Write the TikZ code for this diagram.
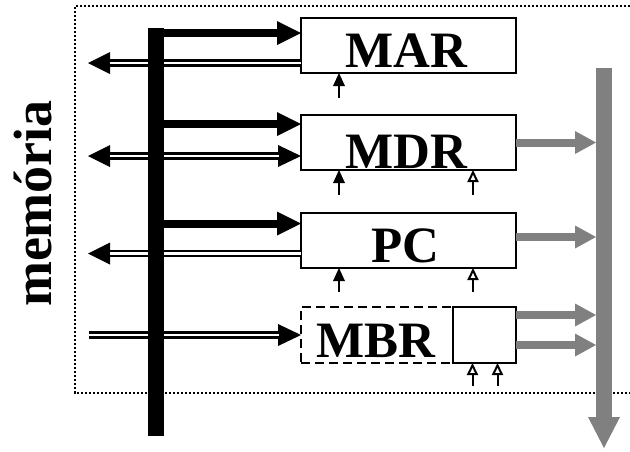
\documentclass[tikz,border=0pt]{standalone}
\usepackage{fontspec}
\setmainfont{Liberation Serif}
\usetikzlibrary{arrows.meta}
\definecolor{busgray}{RGB}{128,128,128}
\begin{document}
\begin{tikzpicture}[x=1pt,y=-1pt,
  regbox/.style={draw=black, line width=2pt, minimum width=215pt, minimum height=55pt, inner sep=0pt, outer sep=0pt},
  reglabel/.style={font=\bfseries\fontsize{51}{51}\selectfont, anchor=base, inner sep=0pt},
  busarrow/.style={line width=8pt, -{Triangle[width=24pt,length=24pt,line width=0pt]}},
  dblout/.style={line width=7.4pt, draw=black},
  dblin/.style={line width=2.6pt, draw=white},
  grayarrow/.style={draw=busgray, fill=busgray, line width=8pt, -{Triangle[width=23pt,length=21pt,line width=0pt]}},
  ctlarrow/.style={line width=2.4pt, -{Triangle[width=12pt,length=13pt,line width=0pt]}},
  ctlopen/.style={line width=2pt, -{Triangle[open,width=11pt,length=12pt]}},
]
\useasboundingbox (0,0) rectangle (630,451);

% memory frame
\draw[line width=2.6pt, dash pattern=on 2.4pt off 1.6pt] (630,6) -- (75,6) -- (75,393) -- (630,393);
\node[rotate=90, anchor=base, inner sep=0pt, font=\bfseries\fontsize{54}{54}\selectfont] (memlabel) at (52,203.5) {memória};

% registers
\node[regbox] (mar) at (408.5,45.5) {};
\node[regbox] (mdr) at (408.5,142.5) {};
\node[regbox] (pc) at (408.5,240.5) {};
\node[regbox, minimum width=152pt, minimum height=56pt, dash pattern=on 9pt off 5pt] (mbr) at (377,335) {};
\node[regbox, minimum width=63pt, minimum height=56pt] (mbrs) at (484.5,335) {};

\node[reglabel] (marT) at (406.5,67) {MAR};
\node[reglabel] (mdrT) at (406.5,168) {MDR};
\node[reglabel] (pcT) at (405.5,262) {PC};
\node[reglabel] (mbrT) at (376,357) {MBR};

% connection points
\coordinate (memx) at (88,0);
\coordinate (mbrx) at (89,0);
\coordinate (gx) at (596,0);
\coordinate (marA) at ([yshift=12.5pt]mar.west);
\coordinate (marD) at ([yshift=-17.5pt]mar.west);
\coordinate (mdrA) at ([yshift=18.5pt]mdr.west);
\coordinate (mdrD) at ([yshift=-13.5pt]mdr.west);
\coordinate (pcA) at ([yshift=17pt]pc.west);
\coordinate (pcD) at ([yshift=-13pt]pc.west);
\coordinate (pcG) at ([yshift=3.5pt]pc.east);
\coordinate (mbrG1) at ([yshift=20pt]mbrs.east);
\coordinate (mbrG2) at ([yshift=-10pt]mbrs.east);

% double lines
\draw[dblout, {Triangle[width=22pt,length=22pt,line width=0pt]}-] (memx |- marD) -- (marD);
\draw[dblin, shorten <=21.5pt] (memx |- marD) -- (marD);
\draw[dblout, {Triangle[width=22pt,length=22pt,line width=0pt]}-{Triangle[width=22pt,length=23pt,line width=0pt]}] (memx |- mdrD) -- (mdrD);
\draw[dblin, shorten <=21.5pt, shorten >=22.5pt] (memx |- mdrD) -- (mdrD);
\draw[dblout, {Triangle[width=22pt,length=22pt,line width=0pt]}-] (memx |- pcD) -- (pcD);
\draw[dblin, shorten <=21.5pt] (memx |- pcD) -- (pcD);
\draw[dblout, -{Triangle[width=22pt,length=23pt,line width=0pt]}] (mbrx |- mbr.west) -- (mbr.west);
\draw[dblin, shorten >=22.5pt] (mbrx |- mbr.west) -- (mbr.west);

% internal bus
\node[fill=black, minimum width=16pt, minimum height=408pt, inner sep=0pt, outer sep=0pt] (bus) at (156,232) {};
\draw[busarrow] (bus.east |- marA) -- (marA);
\draw[busarrow] (bus.east |- mdrA) -- (mdrA);
\draw[busarrow] (bus.east |- pcA) -- (pcA);

% control signals
\coordinate (c1) at (339,98);
\coordinate (c2) at (339,195);
\coordinate (c3) at (473,195);
\coordinate (c4) at (339,292);
\coordinate (c5) at (473,292);
\coordinate (c6) at (472.5,386);
\coordinate (c7) at (497.5,386);
\draw[ctlarrow] (c1) -- (c1 |- mar.south);
\draw[ctlarrow] (c2) -- (c2 |- mdr.south);
\draw[ctlopen] (c3) -- (c3 |- mdr.south);
\draw[ctlarrow] (c4) -- (c4 |- pc.south);
\draw[ctlopen] (c5) -- (c5 |- pc.south);
\draw[ctlopen] (c6) -- (c6 |- mbrs.south);
\draw[ctlopen] (c7) -- (c7 |- mbrs.south);

% gray output bus
\draw[grayarrow] (mdr.east) -- (mdr.east -| gx);
\draw[grayarrow] (pcG) -- (pcG -| gx);
\draw[grayarrow] (mbrG1) -- (mbrG1 -| gx);
\draw[grayarrow] (mbrG2) -- (mbrG2 -| gx);
\coordinate (gtop) at (604,68);
\coordinate (gbot) at (604,448);
\draw[draw=busgray, fill=busgray, line width=16pt, -{Triangle[width=32pt,length=31pt,line width=0pt]}] (gtop) -- (gbot);
\end{tikzpicture}
\end{document}
